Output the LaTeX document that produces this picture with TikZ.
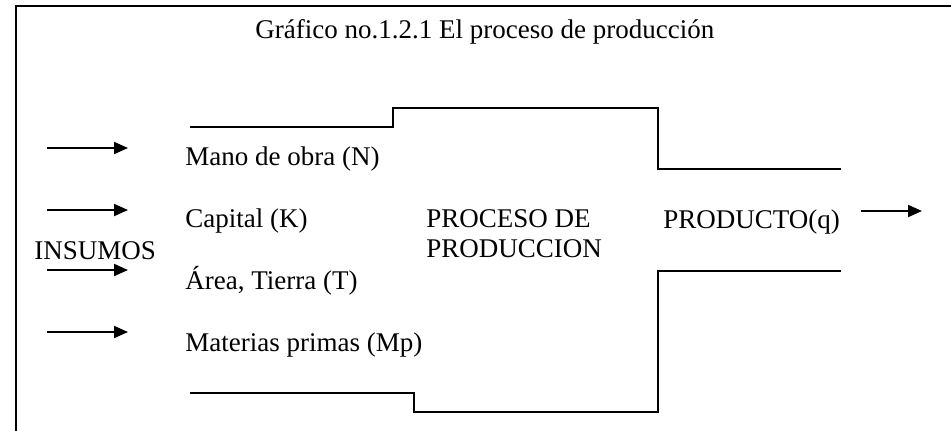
\documentclass[tikz,border=0pt]{standalone}
\usepackage{fontspec}
\setmainfont{Liberation Serif}
\usetikzlibrary{arrows.meta}
\begin{document}
\begin{tikzpicture}[x=0.5pt,y=-0.5pt,
  lbl/.style={anchor=base west,inner sep=0pt,font=\fontsize{13.5pt}{15pt}\selectfont},
  stepline/.style={line width=1.1pt,line join=miter},
  inarrow/.style={line width=1pt,-{Triangle[length=7pt,width=6pt]}},
  frameline/.style={line width=1.2pt}]
\useasboundingbox (0,0) rectangle (951,430);
% frame (top and left edges)
\coordinate (fbl) at (16,432);
\coordinate (ftl) at (16,6);
\coordinate (ftr) at (953,6);
\draw[frameline] (fbl) -- (ftl) -- (ftr);
% title
\node[lbl] (title) at (255,38) {Gráfico no.1.2.1 El proceso de producción};
% inputs
\node[lbl] (mano) at (185,165) {Mano de obra (N)};
\node[lbl] (capital) at (185,227) {Capital (K)};
\node[lbl] (area) at (185,289) {Área, Tierra (T)};
\node[lbl] (mat) at (185,351) {Materias primas (Mp)};
\node[lbl] (insumos) at (34,259) {INSUMOS};
\node[lbl] (proc1) at (426,227) {PROCESO DE};
\node[lbl] (proc2) at (426,257) {PRODUCCION};
\node[lbl] (prod) at (663,228) {PRODUCTO(q)};
% arrows
\coordinate (a1s) at (47,148); \coordinate (a1e) at (128,148);
\coordinate (a2s) at (47,210); \coordinate (a2e) at (128,210);
\coordinate (a3s) at (47,270); \coordinate (a3e) at (128,270);
\coordinate (a4s) at (47,332); \coordinate (a4e) at (128,332);
\coordinate (o1s) at (861,211); \coordinate (o1e) at (922,211);
\draw[inarrow] (a1s) -- (a1e);
\draw[inarrow] (a2s) -- (a2e);
\draw[inarrow] (a3s) -- (a3e);
\draw[inarrow] (a4s) -- (a4e);
\draw[inarrow] (o1s) -- (o1e);
% upper step line
\coordinate (u1) at (190,127);
\coordinate (u2) at (393,127);
\coordinate (u3) at (393,108);
\coordinate (u4) at (658,108);
\coordinate (u5) at (658,169);
\coordinate (u6) at (841,169);
\draw[stepline] (u1) -- (u2) -- (u3) -- (u4) -- (u5) -- (u6);
% lower step line
\coordinate (l1) at (190,393);
\coordinate (l2) at (414,393);
\coordinate (l3) at (414,412);
\coordinate (l4) at (658,412);
\coordinate (l5) at (658,271);
\coordinate (l6) at (841,271);
\draw[stepline] (l1) -- (l2) -- (l3) -- (l4) -- (l5) -- (l6);
\end{tikzpicture}
\end{document}
